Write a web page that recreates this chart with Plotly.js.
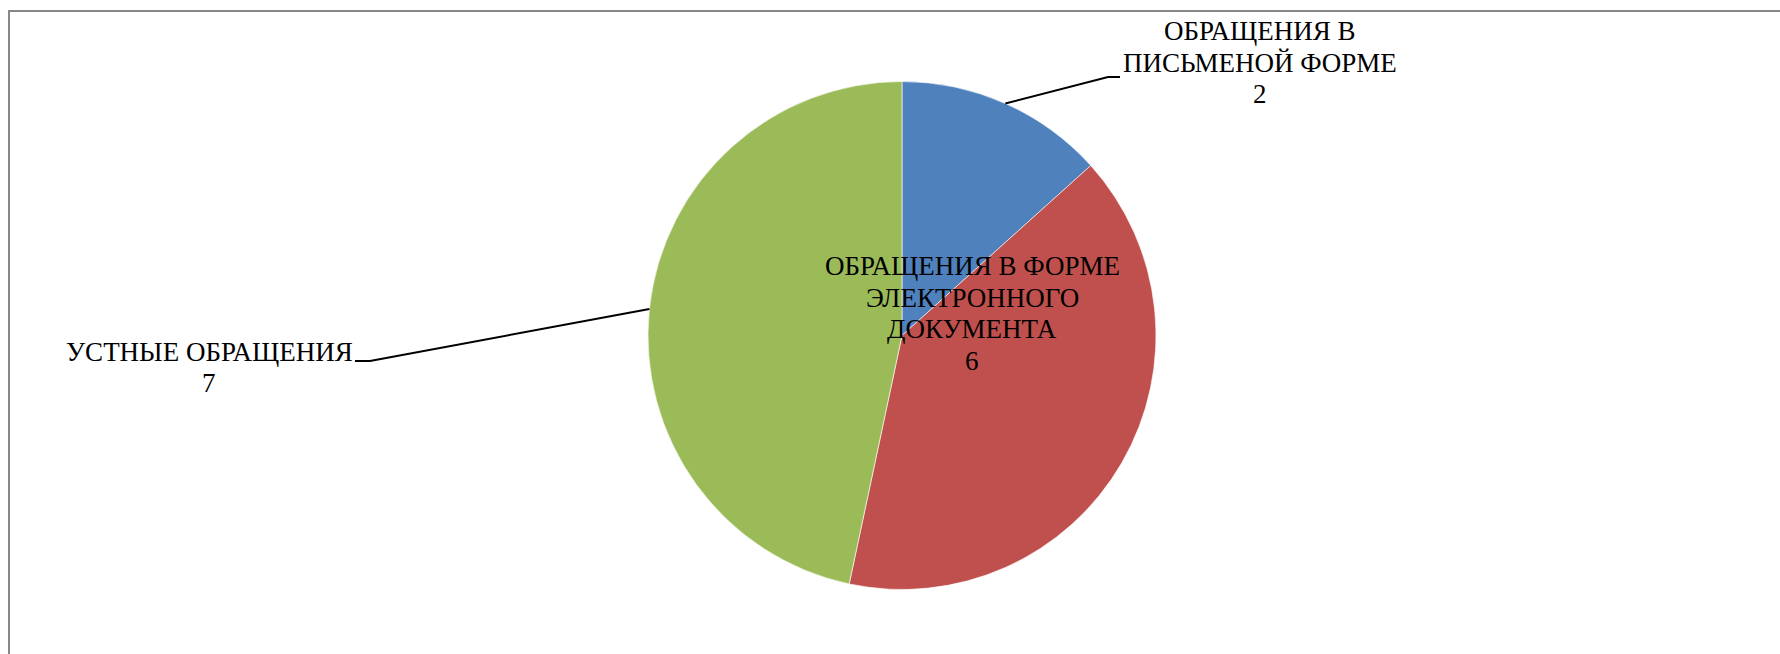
<!DOCTYPE html>
<html>
<head>
<meta charset="utf-8">
<script src="https://cdn.plot.ly/plotly-3.0.1.min.js"></script>
<style>html,body{margin:0;padding:0;background:#fff;}#chart{width:1780px;height:654px;}</style>
</head>
<body>
<div id="chart"></div>
<script>
// ---- data ----
const categories = ['ОБРАЩЕНИЯ В ПИСЬМЕНОЙ ФОРМЕ', 'ОБРАЩЕНИЯ В ФОРМЕ ЭЛЕКТРОННОГО ДОКУМЕНТА', 'УСТНЫЕ ОБРАЩЕНИЯ'];
const labelLines = [['ОБРАЩЕНИЯ В', 'ПИСЬМЕНОЙ ФОРМЕ'], ['ОБРАЩЕНИЯ В ФОРМЕ', 'ЭЛЕКТРОННОГО', 'ДОКУМЕНТА'], ['УСТНЫЕ ОБРАЩЕНИЯ']];
const values = [2, 6, 7];
const colors = ['#4F81BD', '#C0504D', '#9BBB59'];

// ---- layout constants (pixels) ----
const W = 1780, H = 654;
const cx = 902, cy = 335.5, R = 254;
// label text centres (x, y of the first line) and leader elbows/ends (null = no leader)
const labelPos = [
  {x: 1260, y: 31, elbow: [1108, 77], end: [1120, 77]},
  {x: 972, y: 266, elbow: null, end: null},
  {x: 209, y: 352, elbow: [370, 361], end: [355, 361]}
];
const LINE_H = 31.5;
const FONT = 'Liberation Serif, Times New Roman, serif';
const FS = 27;

const px = x => x / W;
const py = y => 1 - y / H;

const total = values.reduce((a, b) => a + b, 0);
const annotations = [];
const shapes = [{
  type: 'rect', xref: 'paper', yref: 'paper',
  x0: px(9), x1: 1.02, y0: -0.02, y1: py(11),
  line: {color: '#878787', width: 2}, fillcolor: 'rgba(0,0,0,0)', layer: 'below'
}];

let cum = 0;
values.forEach((v, i) => {
  const mid = (cum + v / 2) / total * 2 * Math.PI; // clockwise from 12 o'clock
  cum += v;
  const ex = cx + R * Math.sin(mid), ey = cy - R * Math.cos(mid);
  const lp = labelPos[i];
  const lines = labelLines[i].concat([String(v)]);
  lines.forEach((t, k) => {
    annotations.push({
      xref: 'paper', yref: 'paper', x: px(lp.x), y: py(lp.y + k * LINE_H),
      xanchor: 'center', yanchor: 'middle', showarrow: false, align: 'center',
      text: t,
      font: {family: FONT, size: FS, color: '#000'}
    });
  });
  if (lp.elbow) {
    shapes.push({
      type: 'path', xref: 'paper', yref: 'paper',
      path: `M ${px(ex)} ${py(ey)} L ${px(lp.elbow[0])} ${py(lp.elbow[1])} L ${px(lp.end[0])} ${py(lp.end[1])}`,
      line: {color: '#000', width: 2}
    });
  }
});

const trace = {
  type: 'pie',
  labels: categories,
  values: values,
  sort: false,
  direction: 'clockwise',
  rotation: 0,
  textinfo: 'none',
  hoverinfo: 'label+value',
  marker: {colors: colors, line: {color: '#ffffff', width: 0.6}},
  domain: {x: [px(cx - R), px(cx + R)], y: [py(cy + R), py(cy - R)]},
  showlegend: false
};

const layout = {
  width: W, height: H,
  margin: {l: 0, r: 0, t: 0, b: 0},
  paper_bgcolor: '#ffffff',
  font: {family: FONT, color: '#000'},
  showlegend: false,
  annotations: annotations,
  shapes: shapes
};

Plotly.newPlot('chart', [trace], layout, {displayModeBar: false, staticPlot: true});
</script>
</body>
</html>
